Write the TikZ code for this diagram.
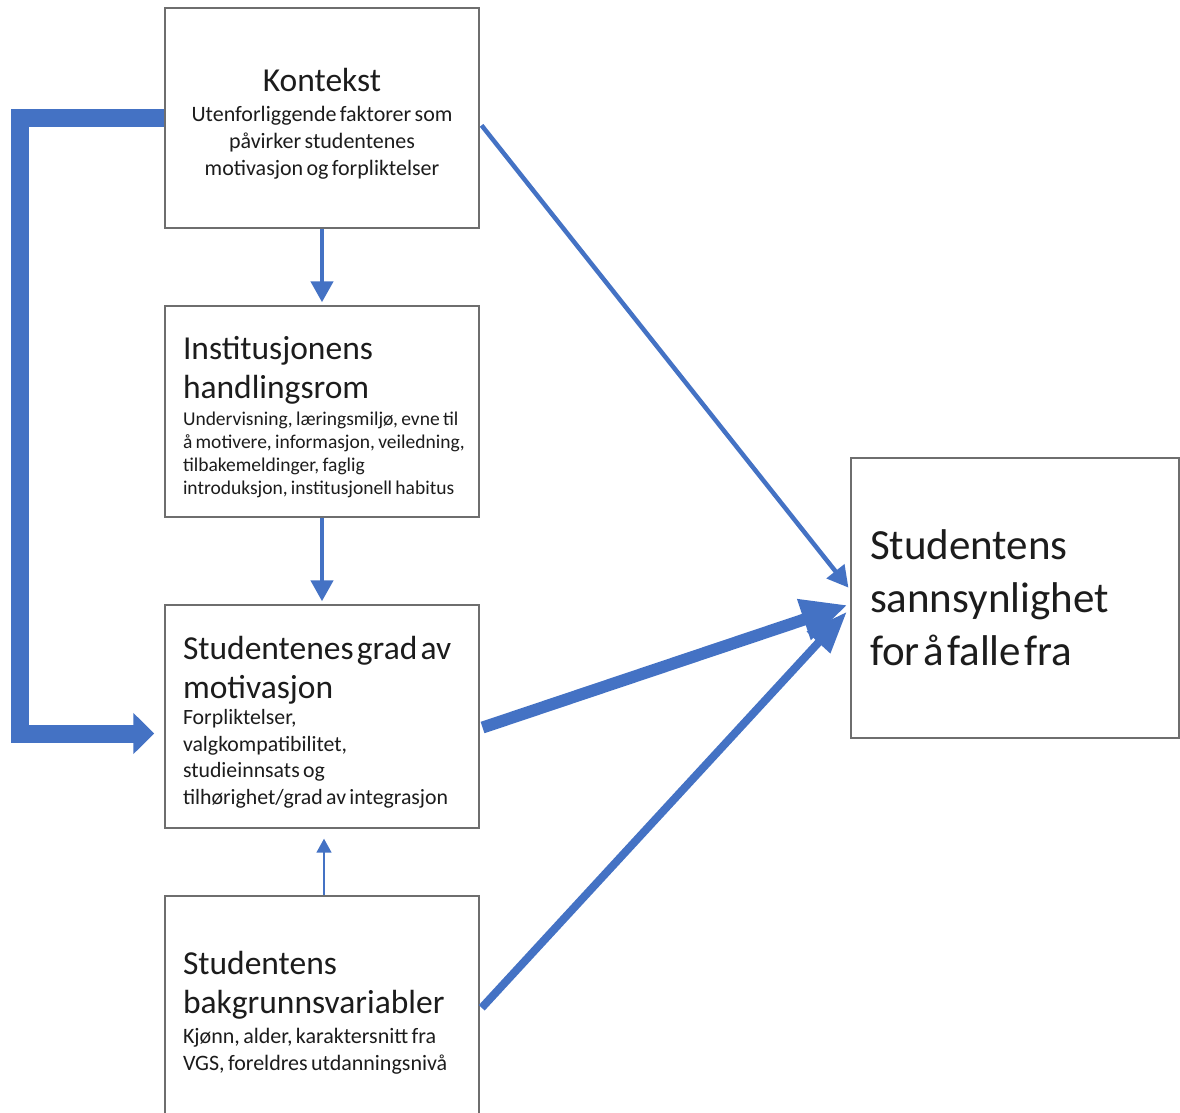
\documentclass[tikz,border=0pt]{standalone}
\usepackage{fontspec}
\setmainfont{Carlito}
\usetikzlibrary{arrows.meta}

\definecolor{pilblaa}{HTML}{4472C4}
\definecolor{kant}{HTML}{6E6E6E}
\definecolor{tekst}{HTML}{1C1C1C}

\newcommand{\tittel}{\fontsize{33.5}{39}\selectfont}
\newcommand{\undertekst}{\fontsize{22}{27}\selectfont}

\tikzset{
  boks/.style={draw=kant, line width=1.4pt, fill=white, text=tekst, inner xsep=18pt,
    text width=278pt, align=left},
  venstreboks/.style={boks, execute at begin node={\rule{0pt}{34pt}}},
  pil/.style={draw=pilblaa, line width=4.5pt, -{Triangle[length=21pt,width=22pt]}},
}

\begin{document}
\begin{tikzpicture}[x=1pt,y=-1pt]
\useasboundingbox (0,0) rectangle (1180,1113);

\node[venstreboks, align=center, minimum height=220pt] (kontekst) at (322,118)
  {{\tittel Kontekst\par}\vspace{3pt}
   {\undertekst Utenforliggende faktorer som\\ påvirker studentenes\\ motivasjon og forpliktelser\par}};

\node[venstreboks, minimum height=211pt] (inst) at (322,411.5)
  {{\tittel Institusjonens\\ handlingsrom\par}\vspace{4pt}
   {\fontsize{19.5}{23}\selectfont Undervisning, læringsmiljø, evne til\\ \mbox{å motivere, informasjon, veiledning,}\\ tilbakemeldinger, faglig\\ introduksjon, institusjonell habitus\par}};

\node[venstreboks, minimum height=223pt] (motiv) at (322,716.5)
  {{\tittel Studentenes grad av\\ motivasjon\par}
   {\fontsize{21.8}{26.5}\selectfont Forpliktelser,\\ valgkompatibilitet,\\ studieinnsats og\\ tilhørighet/grad av integrasjon\par}};

\node[venstreboks, minimum height=222pt] (bakgr) at (322,1007)
  {{\tittel Studentens\\ bakgrunnsvariabler\par}\vspace{3pt}
   {\undertekst Kjønn, alder, karaktersnitt fra\\ VGS, foreldres utdanningsnivå\par}};

\node[boks, text width=290pt, inner xsep=19pt, minimum height=280pt] (utfall) at (1015,598)
  {\fontsize{43}{53}\selectfont Studentens\\ sannsynlighet\\ for å falle fra\par};

% piler mellom boksene
\draw[pil, shorten >=3pt] (kontekst.south) -- (inst.north);
\draw[pil, shorten >=3pt] (inst.south) -- (motiv.north);
\draw[draw=pilblaa, line width=1.6pt, -{Triangle[length=14pt,width=15pt]}, shorten >=10pt]
  ([xshift=2pt]bakgr.north) -- ([xshift=2pt]motiv.south);

% den brede pila rundt venstre side
\draw[draw=pilblaa, line width=18pt, -{Triangle[length=21pt,width=40pt]}, shorten >=10pt]
  (kontekst.west) -- ++(-144,0) |- ([yshift=-17pt]motiv.west);

% pilene inn mot utfallet
\draw[pil, shorten <=3pt, shorten >=3pt] ([yshift=-5pt]kontekst.east) -- ([yshift=8pt]utfall.west);
\draw[draw=pilblaa, line width=8pt, -{Triangle[length=42pt,width=30pt]}, shorten <=3pt, shorten >=5pt]
  ([yshift=-3pt]bakgr.east) -- ([yshift=-10pt]utfall.west);
\draw[draw=pilblaa, line width=12pt, -{Triangle[length=46pt,width=40pt]}, shorten <=3pt, shorten >=3pt]
  ([yshift=-12pt]motiv.east) -- ([yshift=-6pt]utfall.west);

\end{tikzpicture}
\end{document}
